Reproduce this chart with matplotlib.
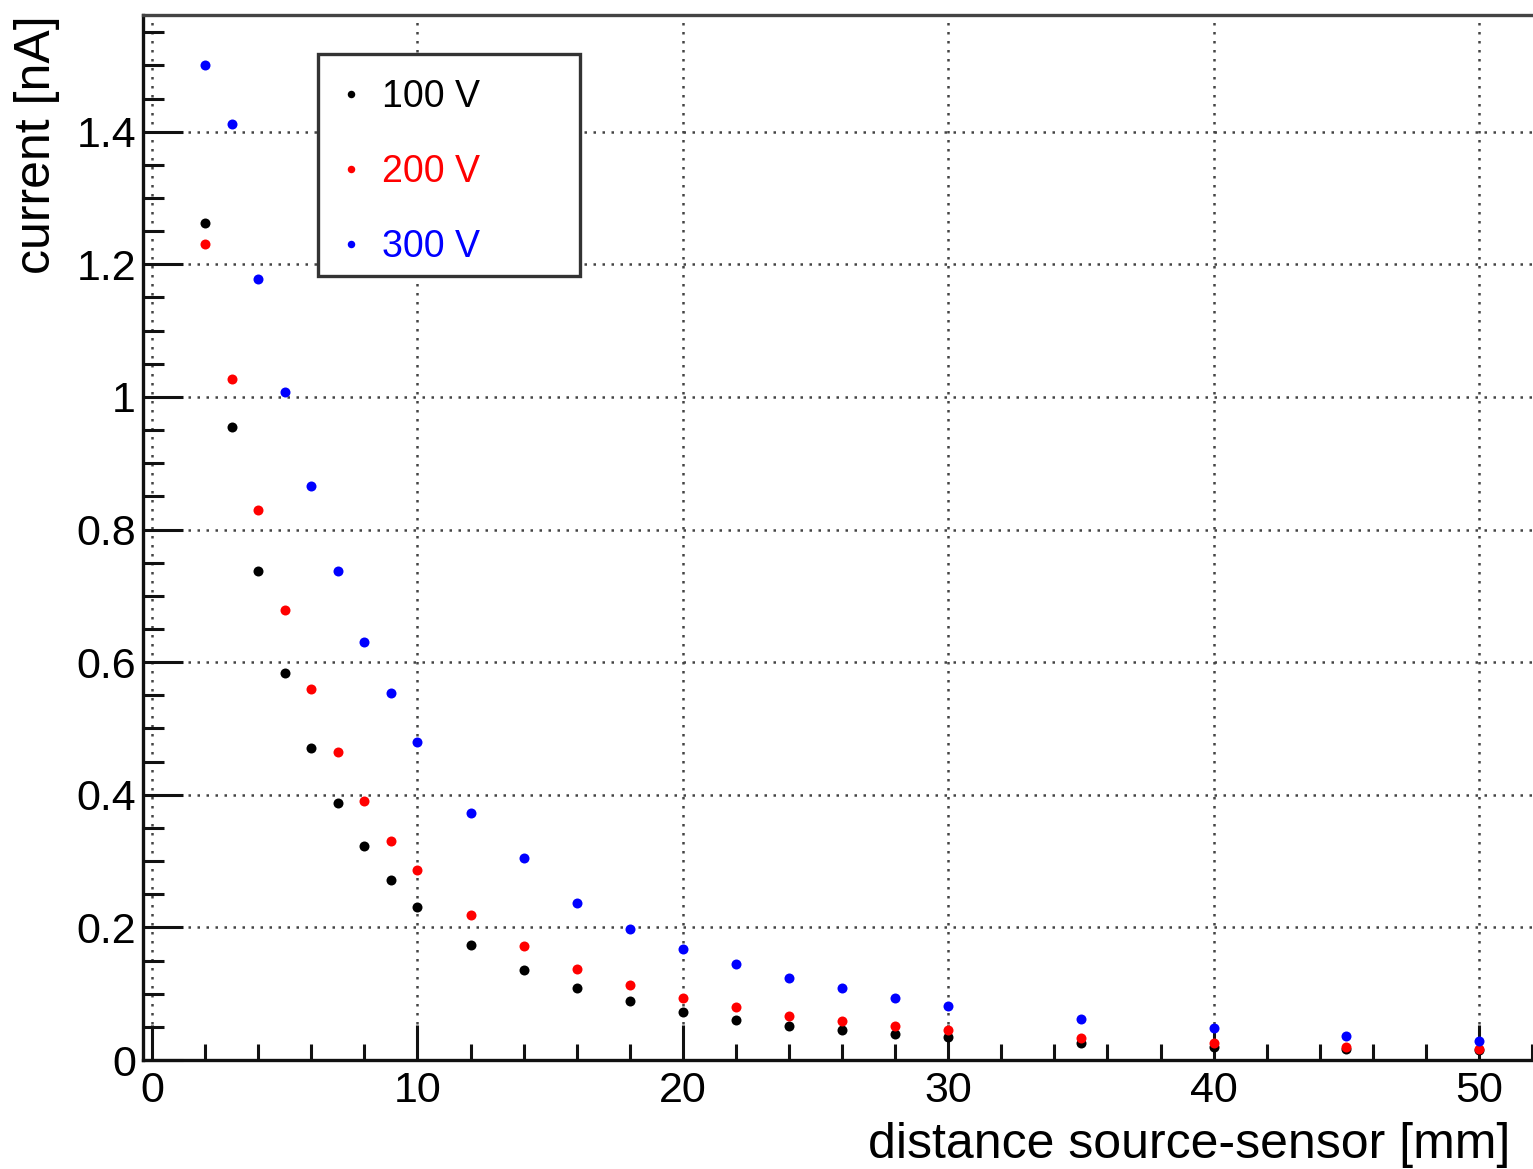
import matplotlib
matplotlib.use("Agg")
import matplotlib.pyplot as plt
from matplotlib.ticker import MultipleLocator, FuncFormatter
from matplotlib.lines import Line2D
from matplotlib.patches import Rectangle

# Measured photocurrent versus source–sensor distance at three bias voltages
distance_mm = [2, 3, 4, 5, 6, 7, 8, 9, 10, 12, 14, 16, 18, 20, 22, 24, 26, 28, 30, 35, 40, 45, 50]

current_100V = [1.262, 0.955, 0.737, 0.584, 0.471, 0.387, 0.322, 0.272, 0.231,
                0.174, 0.135, 0.109, 0.089, 0.072, 0.061, 0.052, 0.045, 0.039,
                0.034, 0.026, 0.020, 0.017, 0.015]
current_200V = [1.230, 1.027, 0.830, 0.679, 0.560, 0.465, 0.391, 0.330, 0.287,
                0.219, 0.172, 0.137, 0.113, 0.094, 0.080, 0.067, 0.059, 0.051,
                0.045, 0.033, 0.025, 0.020, 0.016]
current_300V = [1.501, 1.412, 1.178, 1.008, 0.865, 0.737, 0.630, 0.553, 0.480,
                0.373, 0.305, 0.237, 0.197, 0.167, 0.145, 0.124, 0.109, 0.094,
                0.082, 0.062, 0.048, 0.036, 0.029]

series_labels = ["100 V", "200 V", "300 V"]
series_colors = ["#000000", "#ff0000", "#0000ff"]

x_label = "distance source-sensor [mm]"
y_label = "current [nA]"

plt.rcParams["font.family"] = ["Liberation Sans", "DejaVu Sans"]

W, H = 1533, 1169
fig = plt.figure(figsize=(W / 100, H / 100), dpi=100)

# axes frame in pixels: left edge 143, bottom 1060, top 15; x scale 26.54 px/mm
x_lo, x_hi = -0.34, 54.0
px_per_mm = 26.54
left_px, bottom_px, top_px = 143, 1060, 15
ax = fig.add_axes([left_px / W, 1 - bottom_px / H,
                   (x_hi - x_lo) * px_per_mm / W, (bottom_px - top_px) / H])
ax.set_xlim(x_lo, x_hi)
ax.set_ylim(0, 1.576)

for ys, lab, col in zip([current_100V, current_200V, current_300V], series_labels, series_colors):
    ax.plot(distance_mm, ys, linestyle="none", marker="o", markersize=7.2,
            markeredgewidth=0, color=col, label=lab, zorder=3, clip_on=False)

# ticks
ax.xaxis.set_major_locator(MultipleLocator(10))
ax.xaxis.set_minor_locator(MultipleLocator(2))
ax.yaxis.set_major_locator(MultipleLocator(0.2))
ax.yaxis.set_minor_locator(MultipleLocator(0.05))
ax.yaxis.set_major_formatter(FuncFormatter(lambda v, p: f"{v:g}"))
ax.xaxis.set_major_formatter(FuncFormatter(lambda v, p: f"{v:g}"))

ax.tick_params(axis="both", which="both", direction="in", width=2.2, color="#111111",
               labelsize=31, top=False, right=False)
ax.tick_params(axis="x", which="major", length=25, pad=8)
ax.tick_params(axis="x", which="minor", length=11.5)
ax.tick_params(axis="y", which="major", length=29, pad=5)
ax.tick_params(axis="y", which="minor", length=15)

for s in ["left", "bottom"]:
    ax.spines[s].set_linewidth(2.4)
    ax.spines[s].set_color("#111111")
ax.spines["top"].set_linewidth(2.4)
ax.spines["top"].set_color("#444444")
ax.spines["right"].set_visible(False)

ax.grid(True, which="major", color="#444444", linewidth=1.8,
        linestyle=(0, (1.0, 2.6)), zorder=0)

# legend: white framed box spanning x 318–580 px, y 54–276 px
box_l, box_t, box_r, box_b = 318, 54, 580, 276
fig.patches.append(Rectangle((box_l / W, 1 - box_b / H), (box_r - box_l) / W,
                             (box_b - box_t) / H, transform=fig.transFigure,
                             facecolor="white", edgecolor="#333333",
                             linewidth=2.4, zorder=4))
handles = [Line2D([], [], linestyle="none", marker="o", markersize=5.4,
                  markeredgewidth=0, color=c) for c in series_colors]
leg = fig.legend(handles, series_labels, loc="upper left",
                 bbox_to_anchor=(box_l / W, 1 - (box_t + 6) / H),
                 fontsize=27, frameon=False, borderpad=0.5, labelspacing=1.04,
                 handlelength=0.75, handletextpad=0.45, borderaxespad=0.0)
leg.set_zorder(5)
for t, c in zip(leg.get_texts(), series_colors):
    t.set_color(c)

# axis titles (ROOT-style, aligned to the axis ends)
fig.text(1510 / W, 1 - 1145 / H, x_label, ha="right", va="center", fontsize=36)
fig.text(37 / W, 1 - 15 / H, y_label, ha="center", va="top", rotation=90, fontsize=36)

fig.savefig("out.png", dpi=100)
